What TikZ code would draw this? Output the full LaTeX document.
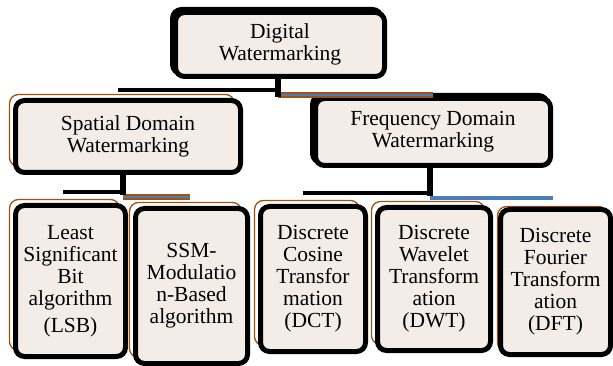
\documentclass[tikz,border=0pt]{standalone}
\usepackage{fontspec}
\setmainfont{Liberation Serif}
\usetikzlibrary{shadows}
\definecolor{boxfill}{HTML}{F4EDE7}
\definecolor{edgebrown}{HTML}{A0520F}
\definecolor{linkblue}{HTML}{4A7EBB}
\tikzset{
  wmbox/.style={draw=black,line width=5pt,rounded corners=9pt,fill=boxfill,align=center,inner sep=0pt,
    font=\fontsize{21.5}{22}\selectfont},
  brownback/.style={general shadow={shadow xshift=-#1,shadow yshift=#1,draw=edgebrown,line width=1.3pt,fill=white}},
  brownback/.default=6pt,
  blackback/.style={general shadow={shadow xshift=-3pt,shadow yshift=3pt,draw=black,line width=5pt,fill=black}},
  stem/.style={draw=black,line width=6.5pt},
  blackbar/.style={draw=black,line width=4pt},
  bluebar/.style={draw=linkblue,line width=3.5pt},
  brownbluebar/.style={draw=edgebrown,line width=5.5pt,postaction={draw=linkblue,line width=2.5pt}}
}
\begin{document}
\begin{tikzpicture}[x=1pt,y=-1pt]
    \useasboundingbox[fill=white](0,0)rectangle(613,366);
    \node[wmbox,blackback,minimum width=209pt,minimum height=64pt](digital)at(280,44.5){Digital\\Watermarking};
    \node[wmbox,brownback,minimum width=225pt,minimum height=72pt](spatial)at(128,136.5){Spatial Domain\\Watermarking};
    \node[wmbox,blackback,minimum width=235pt,minimum height=67pt](frequency)at(433,132){Frequency Domain\\Watermarking};
    \node[wmbox,brownback,minimum width=110pt,minimum height=151pt](lsb)at(70.5,281){Least\\Significant\\Bit\\algorithm\\[5pt](LSB)};
    \node[wmbox,brownback,minimum width=112pt,minimum height=155pt](ssm)at(191.5,286){SSM-\\Modulatio\\n-Based\\algorithm};
    \node[wmbox,brownback,minimum width=105pt,minimum height=145pt](dct)at(313,279){Discrete\\Cosine\\Transfor\\mation\\(DCT)};
    \node[wmbox,brownback,minimum width=113pt,minimum height=143pt](dwt)at(434,279){Discrete\\Wavelet\\Transform\\ation\\(DWT)};
    \node[wmbox,brownback=3pt,minimum width=110pt,minimum height=145pt](dft)at(555.5,282){Discrete\\Fourier\\Transform\\ation\\(DFT)};
    \coordinate(topjoin)at(278,97);
    \coordinate(topleft)at(118,90);
    \coordinate(topright)at(433,95);
    \draw[blackbar](topleft)--(topleft-|topjoin);
    \draw[brownbluebar](topjoin|-topright)--(topright);
    \draw[stem](digital.south-|topjoin)--(topjoin);
    \coordinate(spatialjoin)at(123,195);
    \coordinate(spatialleft)at(63,192);
    \coordinate(spatialright)at(190,197);
    \draw[blackbar](spatialleft)--(spatialleft-|spatialjoin);
    \draw[brownbluebar](spatialjoin|-spatialright)--(spatialright);
    \draw[stem](spatial.south-|spatialjoin)--(spatialjoin);
    \coordinate(freqjoin)at(430,196);
    \coordinate(freqleft)at(303,193);
    \coordinate(freqright)at(553,198);
    \draw[blackbar](freqleft)--(freqleft-|freqjoin);
    \draw[bluebar](freqjoin|-freqright)--(freqright);
    \draw[stem](frequency.south-|freqjoin)--(freqjoin);
\end{tikzpicture}
\end{document}
